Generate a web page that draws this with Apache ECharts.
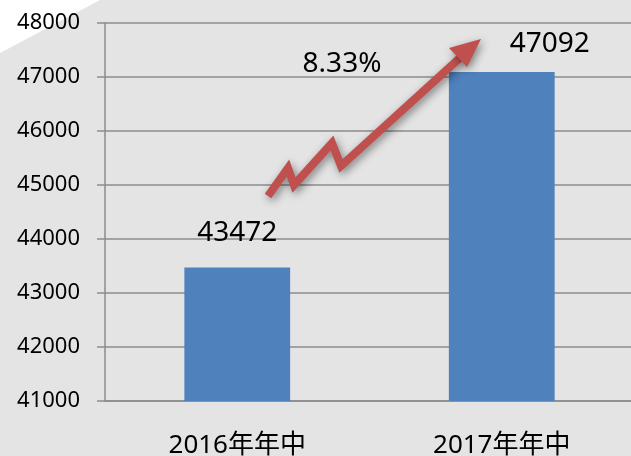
<!DOCTYPE html>
<html>
<head>
<meta charset="utf-8">
<script src="https://cdn.jsdelivr.net/npm/echarts@6/dist/echarts.min.js"></script>
<style>
  html, body { margin: 0; padding: 0; background: #fff; }
  #main { width: 631px; height: 456px; }
</style>
</head>
<body>
<div id="main"></div>
<script>
// 数据
let categories = ['2016年年中', '2017年年中']
let values = [43472, 47092]
let yTicks = [41000, 42000, 43000, 44000, 45000, 46000, 47000, 48000]

// 增长率
let growth = ((values[1] - values[0]) / values[0] * 100).toFixed(2) + '%'

let font = '"Noto Sans", "Noto Sans CJK SC", sans-serif'
let myChart = echarts.init(document.getElementById('main'))

// 第二个数据标签在原图中向右偏移
let barData = values.map((v, i) => {
  if (i === 1) return { value: v, label: { offset: [48, 6] } }
  return v
})

let option = {
  backgroundColor: '#e4e4e4',
  animation: false,
  textStyle: { fontFamily: font },
  grid: { left: 105, right: -3, top: 23, bottom: 55, outerBoundsMode: 'none' },
  xAxis: {
    type: 'category',
    data: categories,
    axisLine: { lineStyle: { color: '#8c8c8c', width: 1.5 } },
    axisTick: { length: 8, lineStyle: { color: '#8c8c8c', width: 1.5 } },
    axisLabel: { color: '#000', fontSize: 26, margin: 32, fontFamily: font }
  },
  yAxis: {
    type: 'value',
    min: yTicks[0],
    max: yTicks[yTicks.length - 1],
    interval: 1000,
    axisLine: { show: true, lineStyle: { color: '#8c8c8c', width: 1.5 } },
    axisTick: { show: true, length: 8, lineStyle: { color: '#8c8c8c', width: 1.5 } },
    splitLine: { lineStyle: { color: '#8c8c8c', width: 1.5 } },
    axisLabel: {
      color: '#000',
      fontSize: 22,
      margin: 25,
      fontFamily: font,
      formatter: (v) => String(v)
    }
  },
  series: [
    {
      type: 'bar',
      data: barData,
      barWidth: '40%',
      itemStyle: { color: '#4f81bd' },
      label: {
        show: true,
        position: 'top',
        distance: 20,
        color: '#000',
        fontSize: 28,
        fontFamily: font
      }
    }
  ],
  graphic: [
    // 左上角白色斜角
    {
      type: 'polygon',
      z: 0,
      shape: { points: [[0, 0], [100, 0], [0, 53]] },
      style: { fill: '#ffffff' }
    },
    // 红色折线箭头
    {
      type: 'polyline',
      z: 10,
      shape: {
        points: [[268, 196], [288, 168], [294, 185], [332, 143], [341, 166], [462, 56]]
      },
      style: {
        stroke: '#c0504d',
        lineWidth: 8,
        fill: null,
        lineJoin: 'miter',
        shadowBlur: 8,
        shadowColor: 'rgba(0,0,0,0.45)',
        shadowOffsetX: 2,
        shadowOffsetY: 3
      }
    },
    {
      type: 'polygon',
      z: 10,
      shape: { points: [[481, 39], [449, 48], [467, 67]] },
      style: {
        fill: '#c0504d',
        shadowBlur: 8,
        shadowColor: 'rgba(0,0,0,0.45)',
        shadowOffsetX: 2,
        shadowOffsetY: 3
      }
    },
    {
      type: 'text',
      z: 10,
      style: {
        text: growth,
        x: 342,
        y: 64,
        align: 'center',
        verticalAlign: 'middle',
        fill: '#000',
        font: '28px ' + font
      }
    }
  ]
}

myChart.setOption(option)
</script>
</body>
</html>
